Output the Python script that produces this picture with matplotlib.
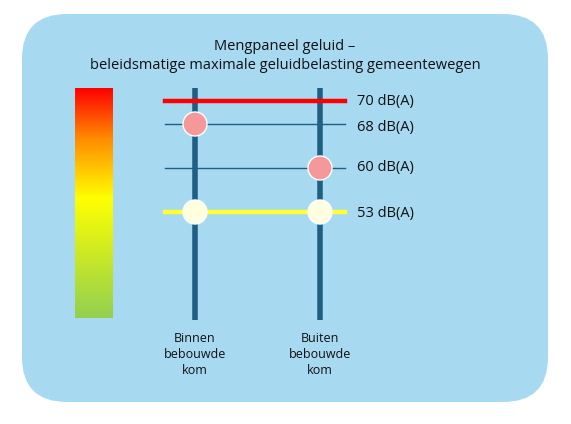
import matplotlib
matplotlib.use("Agg")
import matplotlib.pyplot as plt
import numpy as np
from matplotlib.patches import FancyBboxPatch, Circle
from matplotlib.colors import LinearSegmentedColormap

plt.rcParams['font.family'] = ['Open Sans', 'DejaVu Sans']

levels = [70, 68, 60, 53]
level_labels = ["70 dB(A)", "68 dB(A)", "60 dB(A)", "53 dB(A)"]
categories = ["Binnen\nbebouwde\nkom", "Buiten\nbebouwde\nkom"]
# marker level per category (dB)
markers = {"Binnen\nbebouwde\nkom": [68, 53], "Buiten\nbebouwde\nkom": [60, 53]}
title = "Mengpaneel geluid –\nbeleidsmatige maximale geluidbelasting gemeentewegen"

# layout (pixels)
level_y = {70: 101, 68: 124, 60: 168, 53: 212}
label_dy = {70: 0, 68: 4, 60: 0, 53: 1}
cat_x = [195, 320]
line_style = {70: ("#FF0000", 3.2), 68: ("#1F5F84", 1.0), 60: ("#1F5F84", 1.0), 53: ("#FFFF33", 3.2)}
marker_col = {68: "#F4989A", 60: "#F4989A", 53: "#FFFFE0"}

fig = plt.figure(figsize=(5.71, 4.24), dpi=100)
ax = fig.add_axes([0, 0, 1, 1])
ax.set_xlim(0, 571); ax.set_ylim(424, 0); ax.axis('off')

ax.add_patch(FancyBboxPatch((22, 14), 526, 388, boxstyle="round,pad=0,rounding_size=45",
                            fc="#A7D9F1", ec="none"))

cmap = LinearSegmentedColormap.from_list("g", [(0, "#FF0000"), (0.22, "#FF8C00"), (0.48, "#FFFF00"), (1, "#92D050")])
grad = np.linspace(0, 1, 256).reshape(-1, 1)
ax.imshow(grad, cmap=cmap, extent=(75, 113, 318, 88), aspect='auto', zorder=2)

for x in cat_x:
    ax.plot([x, x], [88, 320], color="#1F5F84", lw=4, zorder=3, solid_capstyle='butt')

for lv, lab in zip(levels, level_labels):
    c, w = line_style[lv]
    y = level_y[lv]
    ax.plot([165, 345], [y, y], color=c, lw=w, zorder=4 if lv in (70, 53) else 2)
    ax.text(357, y + label_dy[lv], lab, fontsize=10.5, va='center', ha='left', color="#111111", zorder=6)

for cat, x in zip(categories, cat_x):
    for lv in markers[cat]:
        ax.add_patch(Circle((x, level_y[lv]), 12, fc=marker_col[lv], ec="white", lw=1, zorder=5))
    ax.text(x, 332, cat, fontsize=9, ha='center', va='top', linespacing=1.3, color="#111111")

ax.text(285, 56, title, fontsize=10.5, ha='center', va='center', linespacing=1.4, color="#111111")

fig.savefig("out.png", dpi=100)
